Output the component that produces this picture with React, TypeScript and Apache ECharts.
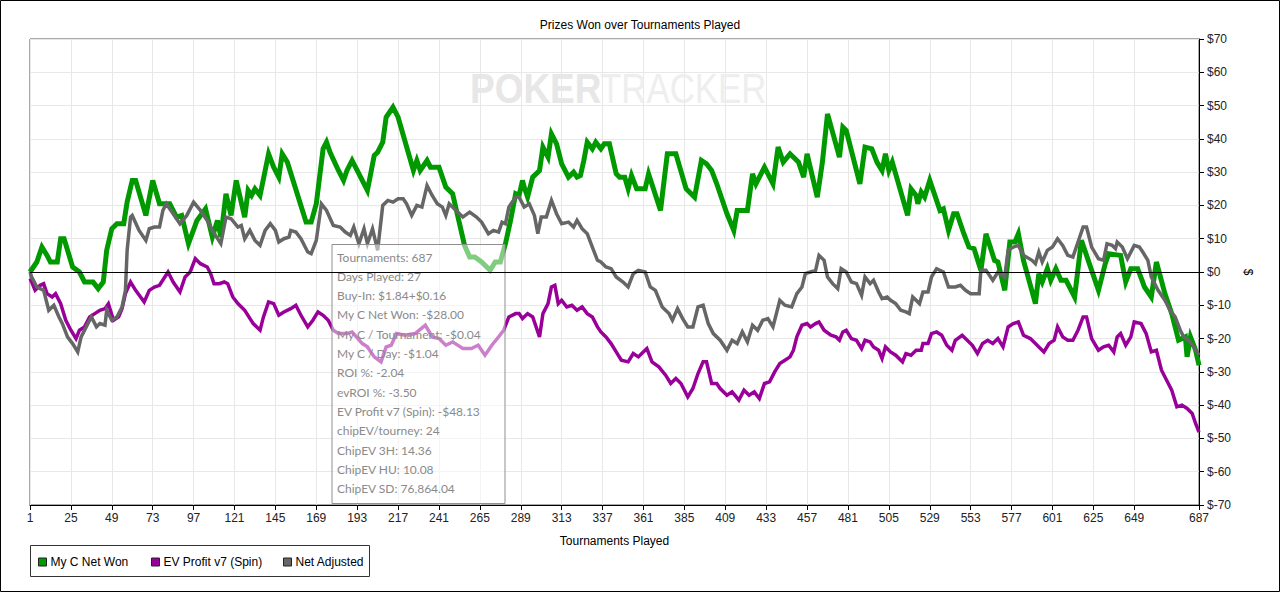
import React, { useEffect, useRef } from "react";
import * as echarts from "echarts";

const FONT = "'Liberation Sans', Arial, sans-serif";

const TITLE = "Prizes Won over Tournaments Played";
const X_NAME = "Tournaments Played";
const Y_NAME = "$";
const TOURNAMENT_COUNT = 687;
const CATEGORIES = Array.from({ length: TOURNAMENT_COUNT }, (_, i) => String(i + 1));
const X_TICKS = [1, 25, 49, 73, 97, 121, 145, 169, 193, 217, 241, 265, 289, 313, 337, 361, 385, 409, 433, 457, 481, 505, 529, 553, 577, 601, 625, 649, 687];
const X_GRID = [1, 25, 49, 73, 97, 121, 145, 169, 193, 217, 241, 265, 289, 313, 337, 361, 385, 409, 433, 457, 481, 505, 529, 553, 577, 601, 625, 649];
const Y_MIN = -70;
const Y_MAX = 70;
const Y_STEP = 10;

const SERIES_NAMES = ["My C Net Won", "EV Profit v7 (Spin)", "Net Adjusted"];
const SERIES_COLORS = ["#009a00", "#990099", "#666666"];

const GREEN: [number, number][] = [[1,0],[5,3],[8,7.5],[11,5],[13,3],[17,3],[19,10],[21,10],[26,1.5],[30,0],[33,-3],[38,-3],[41,-5],[44,-3],[46,6.5],[49,13],[52,14.5],[56,14.5],[58,21],[61,27.5],[63,27.5],[69,17],[73,27.5],[77,20.5],[83,20.5],[87,16.5],[90,17],[94,8.5],[99,15.5],[104,19],[108,10.5],[111,15.5],[113,10.5],[116,23.5],[119,17],[122,27.5],[127,16.5],[129,24.5],[131,23],[133,25],[136,23],[141,35.5],[144,31.5],[147,28.5],[149,35.5],[152,33],[163,15],[166,15],[169,20.5],[173,37],[175,39],[177,36],[182,30.5],[185,27.5],[187,30.5],[190,33.5],[193,30.5],[195,28.5],[199,24.5],[203,35],[205,36],[208,39],[210,46.5],[214,49.5],[217,46.5],[226,30.5],[228,33.5],[230,30.5],[234,33.5],[236,31.5],[241,31.5],[245,25.5],[249,23.5],[256,8],[259,4.5],[262,4.5],[266,3],[271,0.5],[274,3],[277,3],[280,8.5],[283,15.5],[286,23.5],[288,23],[290,27.5],[291,25.5],[293,22.5],[296,28.5],[300,30.5],[302,37.5],[305,34.5],[307,41.5],[310,38.5],[313,32.5],[317,28.5],[320,30],[322,28.5],[324,29],[326,33.5],[328,39],[331,37],[333,39],[336,37],[338,38.5],[341,38.5],[345,29.5],[347,28.5],[350,28.5],[352,25],[354,29],[357,25],[362,25],[364,29.5],[371,18.5],[375,35.5],[380,35.5],[386,25],[391,22.5],[395,33.5],[398,32.5],[401,30.5],[404,26.5],[410,17.5],[414,12.5],[416,18.5],[422,18.5],[425,29.5],[427,26.5],[432,31.5],[437,26.5],[440,37.5],[443,33],[447,35.5],[452,33],[455,28.5],[457,35.5],[463,22.5],[466,33],[469,47.5],[476,34.5],[478,43.5],[480,42.5],[488,26.5],[491,37.5],[495,37],[498,33],[501,30.5],[503,35.5],[505,30.5],[507,33],[516,17],[518,25],[521,23],[522,20.5],[524,24],[526,22.5],[529,27.5],[535,18.5],[537,19],[540,12.5],[543,17.5],[545,17.5],[549,11.5],[552,7.5],[555,7],[559,0.5],[562,11.5],[567,3.5],[569,3],[573,-5.5],[576,9],[579,9],[581,11.5],[584,3.5],[591,-9.5],[593,-0.5],[595,-3],[598,1],[600,-2.5],[603,1],[606,-2.5],[609,-2.5],[614,-7.5],[618,9.5],[622,3.5],[628,-5.5],[632,2.5],[634,5.5],[641,5],[644,-3],[647,1],[651,1],[655,-4.5],[659,-7.5],[662,3],[667,-6.5],[671,-12.5],[675,-20.5],[679,-19.5],[680,-25.5],[682,-19.5],[685,-23.5],[687,-28]];

const PURPLE: [number, number][] = [[1,-2],[2,-3],[4,-5.5],[7,-4],[9,-3.5],[11,-6.5],[14,-7.5],[16,-6.5],[19,-9.5],[22,-14.5],[25,-17.5],[28,-20],[30,-17.5],[33,-16.5],[36,-13.5],[39,-12.5],[42,-11.5],[45,-11],[47,-9.5],[50,-14.5],[53,-13.5],[55,-11],[57,-6.5],[60,-3],[63,-5.5],[68,-9],[71,-5.5],[74,-4.5],[77,-4],[82,0],[85,-3],[89,-6],[92,-1.5],[95,0],[98,4],[101,2.5],[105,1.5],[107,-0.5],[109,-3.5],[112,-3.5],[115,-3],[117,-3.5],[120,-7.5],[123,-9.5],[127,-11.5],[132,-15.5],[136,-17.5],[138,-13.5],[141,-9],[144,-9.5],[147,-13],[150,-12],[154,-11],[157,-10],[160,-13],[164,-16.5],[167,-14.5],[170,-12],[173,-13],[176,-14.5],[179,-17.5],[182,-18.5],[187,-18.5],[190,-18],[196,-21.5],[199,-22.5],[203,-25.5],[207,-27],[210,-22.5],[213,-22],[216,-18.5],[221,-19],[227,-18.5],[233,-16],[237,-19.5],[241,-20],[245,-22],[249,-21],[255,-23],[260,-23],[264,-22],[268,-25],[272,-22],[276,-19.5],[279,-17.5],[282,-13.5],[286,-12.5],[288,-12.5],[290,-14],[293,-12.5],[296,-13.5],[300,-19.5],[302,-12.5],[305,-9.5],[307,-4.5],[309,-4],[311,-9.5],[313,-8.5],[316,-10.5],[319,-10],[322,-11.5],[325,-10.5],[328,-12.5],[331,-13.5],[334,-16.5],[336,-18],[339,-19.5],[342,-21.5],[345,-24],[348,-26.5],[352,-27],[355,-24.5],[358,-25.5],[360,-24.5],[363,-23],[366,-27],[370,-28.5],[374,-31],[377,-33.5],[380,-32],[383,-33.5],[387,-37.5],[390,-35],[393,-30.5],[396,-27],[398,-27],[401,-33.5],[404,-33.5],[406,-35],[410,-37],[413,-36],[417,-38.5],[420,-35.5],[423,-37],[426,-36],[429,-38],[432,-33.5],[435,-33],[438,-30],[441,-27.5],[444,-26.5],[447,-25.5],[449,-23.5],[451,-19.5],[454,-16],[457,-15.5],[459,-16.5],[462,-15.5],[464,-15],[467,-17.5],[471,-19],[474,-19.5],[476,-20.5],[478,-18],[480,-17.5],[483,-20],[486,-20.5],[489,-23],[491,-20.5],[494,-21],[496,-22.5],[499,-23.5],[501,-26],[503,-22.5],[506,-24],[509,-25],[513,-27],[515,-24.5],[518,-25],[521,-23.5],[524,-23.5],[525,-21.5],[528,-21.5],[530,-18.5],[533,-18],[536,-19],[539,-22],[542,-23.5],[544,-20.5],[548,-19],[551,-20.5],[554,-22],[557,-24.5],[560,-21.5],[563,-20.5],[566,-21.5],[569,-20],[572,-22.5],[575,-16.5],[578,-15.5],[581,-15],[584,-19],[588,-20],[591,-21.5],[593,-22.5],[596,-24],[599,-21.5],[602,-20.5],[604,-16.5],[607,-19.5],[610,-20.5],[613,-20.5],[616,-17.5],[619,-13.5],[621,-13.5],[624,-20],[628,-23.5],[631,-22.5],[634,-22],[637,-24],[639,-19.5],[641,-18.5],[644,-22],[647,-19.5],[649,-15],[653,-15.5],[656,-18.5],[659,-24],[662,-23.5],[665,-29.5],[668,-32.5],[671,-35.5],[674,-40.5],[677,-40],[680,-41],[683,-42.5],[685,-45.5],[687,-48.13]];

const GRAY: [number, number][] = [[1,0],[2,-1.5],[5,-4.5],[9,-5.5],[12,-11.5],[15,-10],[18,-13.5],[20,-15.5],[23,-19.5],[26,-21.5],[29,-24],[31,-19.5],[34,-16.5],[37,-13.5],[40,-16.5],[42,-15.5],[45,-16],[46,-11.5],[49,-14.5],[52,-13.5],[55,-10.5],[57,-5.5],[58,6.5],[60,16.5],[61,17],[65,12.5],[69,9.5],[71,13],[74,13.5],[77,13.5],[79,18.5],[81,20.5],[85,17.5],[89,14.5],[93,17],[97,21],[101,18.5],[105,15.5],[108,12.5],[113,8.5],[116,16.5],[119,16],[123,13.5],[125,14],[127,10],[130,12.5],[133,9.5],[136,8],[139,12.5],[142,14.5],[145,12.5],[147,9],[150,10],[153,10.5],[154,12.5],[157,12],[160,10],[164,6],[166,5.5],[169,9.5],[172,20.5],[175,18.5],[179,14],[183,13.5],[186,12],[189,11],[191,13.5],[194,8.5],[197,13],[199,8.5],[202,13],[205,6.5],[208,20],[211,21.5],[214,21],[217,22],[220,22],[222,20.5],[225,17],[228,20],[231,19.5],[234,26],[237,23],[240,20.5],[243,19.5],[245,17],[247,20.5],[251,18.5],[255,16.5],[259,18],[263,16.5],[266,15],[270,11.5],[273,12.5],[276,12],[278,15],[280,14.5],[282,19.5],[286,22.5],[288,22.5],[291,19.5],[294,20.5],[297,17],[299,11.5],[301,16.5],[304,16.5],[307,21.5],[310,17.5],[313,14.5],[317,15],[320,13.5],[322,15.5],[325,13],[328,11.5],[331,7.5],[334,3.5],[336,3],[339,1.5],[342,1],[345,-1.5],[349,-3],[352,-4.5],[355,-0.5],[358,0.5],[362,0],[365,-4.5],[368,-5.5],[372,-10.5],[376,-12.5],[378,-14.5],[381,-11],[384,-14],[387,-16.5],[390,-16.5],[393,-10.5],[396,-10],[399,-15.5],[402,-18.5],[406,-20.5],[410,-23.5],[413,-20.5],[416,-21.5],[419,-18],[422,-21],[425,-16],[428,-17.5],[431,-14.5],[434,-14],[437,-16.5],[441,-8.5],[444,-10],[448,-10.5],[451,-6.5],[454,-4.5],[456,-0.5],[459,0],[462,0.5],[464,5],[467,3.5],[469,-1.5],[472,-3.5],[475,-5],[477,1],[480,0],[483,-3],[486,-3.5],[489,-7],[491,-1.5],[494,-3.5],[496,-2.5],[499,-6],[501,-8],[504,-7.5],[506,-8.5],[509,-9.5],[512,-11.5],[515,-12],[517,-12.5],[519,-7.5],[523,-9.5],[525,-6],[528,-6],[530,-1.5],[533,1],[537,0],[540,-4.5],[544,-4.5],[547,-4],[550,-5.5],[553,-6.5],[558,-6.5],[559,0.5],[562,0.5],[566,-2.5],[569,0],[573,-1.5],[575,6.5],[578,7.5],[581,8],[584,5],[589,3.5],[591,2.5],[593,6],[595,3],[598,6.5],[601,7.5],[604,10],[607,8],[610,5],[613,4.5],[617,10.5],[619,13.5],[621,13.5],[624,7.5],[628,4],[631,3.5],[633,8.5],[636,8],[638,7],[639,9],[642,7.5],[645,4],[649,8],[652,7.5],[654,6],[657,3.5],[659,-1.5],[663,-5.5],[667,-8.5],[670,-11.5],[673,-13.5],[676,-17.5],[678,-19.5],[681,-20.5],[684,-22.5],[687,-25]];

const TOOLTIP_LINES = [
  "Tournaments: 687",
  "Days Played: 27",
  "Buy-In: $1.84+$0.16",
  "My C Net Won: -$28.00",
  "My C / Tournament: -$0.04",
  "My C / Day: -$1.04",
  "ROI %: -2.04",
  "evROI %: -3.50",
  "EV Profit v7 (Spin): -$48.13",
  "chipEV/tourney: 24",
  "ChipEV 3H: 14.36",
  "ChipEV HU: 10.08",
  "ChipEV SD: 76,864.04",
];

const LEGEND_LEFTS = [38, 151, 283];

function toSeriesData(points: [number, number][]) {
  return points.map(([t, v]) => [String(t), v]);
}

export default function App() {
  const ref = useRef<HTMLDivElement>(null);

  useEffect(() => {
    document.body.style.margin = "0";
    if (!ref.current) return;
    const chart = echarts.init(ref.current, undefined, { renderer: "svg" });

    const tickSet = new Set(X_TICKS.map((t) => t - 1));
    const gridSet = new Set(X_GRID.map((t) => t - 1));
    const seriesPoints = [GREEN, PURPLE, GRAY];
    const widths = [5, 3.5, 3.5];

    const tooltipGraphics = TOOLTIP_LINES.map((line, i) => ({
      type: "text",
      x: 337,
      y: 257 + i * 19.3,
      z: 51,
      silent: true,
      style: {
        text: line,
        fill: "#8a8a8a",
        font: "12px Lato, 'Open Sans', sans-serif",
        textVerticalAlign: "middle",
        textAlign: "left",
      },
    }));

    const option: any = {
      animation: false,
      backgroundColor: "#ffffff",
      title: {
        text: TITLE,
        left: "center",
        top: 14,
        textStyle: { fontFamily: FONT, fontSize: 12, fontWeight: "normal", color: "#000" },
      },
      legend: SERIES_NAMES.map((name, i) => ({
        data: [name],
        left: LEGEND_LEFTS[i],
        top: 556,
        padding: 0,
        icon: "rect",
        itemWidth: 8,
        itemHeight: 8,
        itemGap: 5,
        selectedMode: false,
        itemStyle: { borderColor: "#222", borderWidth: 1 },
        textStyle: { fontFamily: FONT, fontSize: 12, color: "#000", padding: [0, 0, 0, -1] },
      })),
      grid: {
        left: 30,
        right: 81,
        top: 39,
        bottom: 88,
        show: true,
        borderColor: "#555",
        borderWidth: 1,
      },
      xAxis: {
        type: "category",
        data: CATEGORIES,
        boundaryGap: false,
        name: X_NAME,
        nameLocation: "middle",
        nameGap: 30,
        nameTextStyle: { fontFamily: FONT, fontSize: 12, color: "#000" },
        axisLine: { show: true, onZero: false, lineStyle: { color: "#000", width: 1 } },
        axisTick: {
          show: true,
          length: 5,
          interval: (idx: number) => tickSet.has(idx),
          lineStyle: { color: "#000" },
        },
        axisLabel: {
          interval: (idx: number) => tickSet.has(idx),
          fontFamily: FONT,
          fontSize: 12,
          color: "#222",
          margin: 7,
        },
        splitLine: {
          show: true,
          interval: (idx: number) => gridSet.has(idx),
          lineStyle: { color: "#e8e8e8", width: 1 },
        },
      },
      yAxis: {
        type: "value",
        position: "right",
        min: Y_MIN,
        max: Y_MAX,
        interval: Y_STEP,
        name: Y_NAME,
        nameLocation: "middle",
        nameGap: 42,
        nameRotate: -90,
        nameTextStyle: { fontFamily: FONT, fontSize: 12, color: "#000" },
        axisLine: { show: true, lineStyle: { color: "#000", width: 1 } },
        axisTick: { show: true, length: 5, lineStyle: { color: "#000" } },
        axisLabel: {
          formatter: (v: number) => (v < 0 ? "$-" + -v : "$" + v),
          fontFamily: FONT,
          fontSize: 12,
          color: "#222",
          margin: 8,
        },
        splitLine: { show: true, lineStyle: { color: "#e8e8e8", width: 1 } },
      },
      series: SERIES_NAMES.map((name, i) => ({
        type: "line",
        name,
        data: toSeriesData(seriesPoints[i]),
        color: SERIES_COLORS[i],
        showSymbol: false,
        symbol: "none",
        silent: true,
        z: 2 + i,
        lineStyle: { color: SERIES_COLORS[i], width: widths[i], join: "miter" },
        markLine:
          i === 0
            ? {
                silent: true,
                symbol: "none",
                z: 60,
                label: { show: false },
                lineStyle: { color: "#000", width: 1, type: "solid" },
                data: [{ yAxis: 0 }],
              }
            : undefined,
      })),
      graphic: [
        {
          type: "text",
          x: 470,
          y: 88,
          z: 1,
          silent: true,
          scaleX: 0.88,
          style: {
            text: "POKER",
            fill: "#e7e7e7",
            font: "bold 42px 'Liberation Sans', Arial, sans-serif",
            textVerticalAlign: "middle",
            textAlign: "left",
          },
        },
        {
          type: "text",
          x: 600,
          y: 88,
          z: 1,
          silent: true,
          scaleX: 0.83,
          style: {
            text: "TRACKER",
            fill: "#eeeeee",
            font: "42px 'Liberation Sans', Arial, sans-serif",
            textVerticalAlign: "middle",
            textAlign: "left",
          },
        },
        {
          type: "rect",
          z: 50,
          silent: true,
          shape: { x: 332, y: 244.5, width: 173, height: 259 },
          style: { fill: "rgba(255,255,255,0.5)", stroke: "#8f8f8f", lineWidth: 1 },
        },
        ...tooltipGraphics,
        {
          type: "rect",
          z: 10,
          silent: true,
          shape: { x: 30.5, y: 545.5, width: 339, height: 31 },
          style: { fill: "none", stroke: "#333", lineWidth: 1 },
        },
        {
          type: "rect",
          z: 10,
          silent: true,
          shape: { x: 0.5, y: 0.5, width: 1279, height: 591 },
          style: { fill: "none", stroke: "#000", lineWidth: 1 },
        },
      ],
    };

    chart.setOption(option);
    return () => chart.dispose();
  }, []);

  return <div ref={ref} style={{ width: 1280, height: 593 }} />;
}
